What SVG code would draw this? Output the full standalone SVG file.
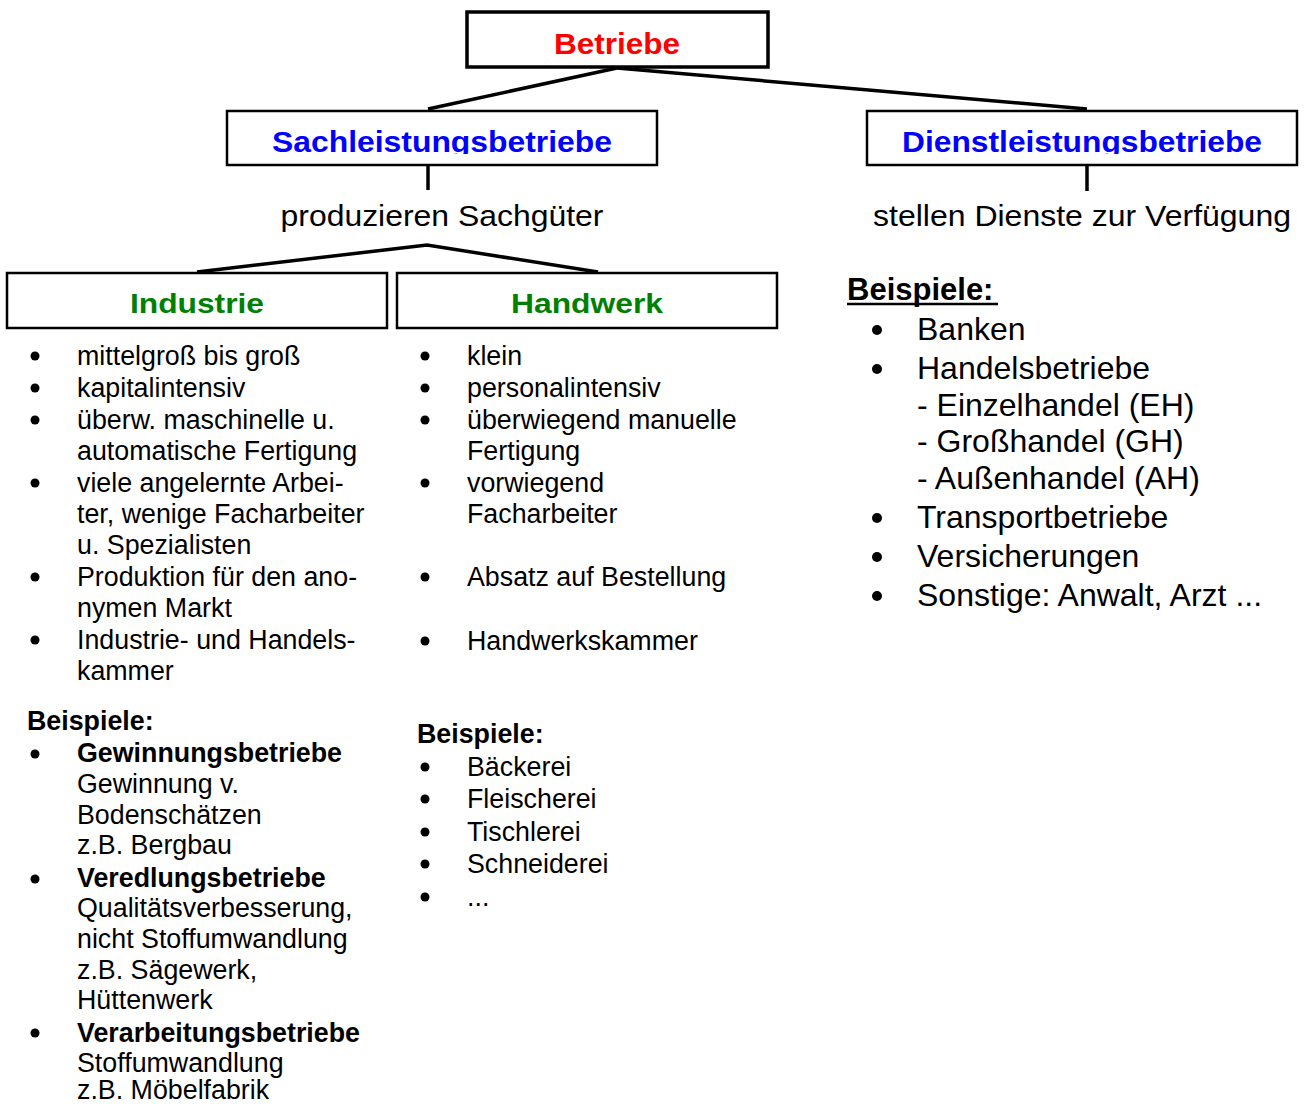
<svg xmlns="http://www.w3.org/2000/svg" width="1308" height="1104" viewBox="0 0 1308 1104">
<style>
.box{fill:#fff;stroke:#000;stroke-width:2.5}
.conn{stroke:#000;stroke-width:3.5;fill:none}
.h{font-family:"Liberation Sans",Arial,sans-serif;font-weight:bold;text-anchor:middle}
.b{font-family:"Liberation Sans",Arial,sans-serif;font-size:26.8px;fill:#000}
.bb{font-weight:bold}
.r{font-family:"Liberation Sans",Arial,sans-serif;font-size:32px;fill:#000}
.mid{font-family:"Liberation Sans",Arial,sans-serif;font-size:29px;fill:#000;text-anchor:middle}
</style>
<defs>
<clipPath id="clipS"><rect x="227" y="111" width="430" height="43"/></clipPath>
<clipPath id="clipD"><rect x="867" y="111" width="430" height="43"/></clipPath>
</defs>
<rect width="1308" height="1104" fill="#fff"/>
<g id="connectors">
<line class="conn" x1="617" y1="68" x2="428" y2="109"/>
<line class="conn" x1="617" y1="68" x2="1087" y2="109"/>
<line class="conn" x1="428" y1="166" x2="428" y2="190"/>
<line class="conn" x1="1087" y1="166" x2="1087" y2="191"/>
<polyline class="conn" points="197,272 427,245 598,272"/>
</g>
<g id="betriebe">
<rect class="box" x="467" y="12" width="301" height="55" style="stroke-width:3.5"/>
<text class="h" x="617" y="54" font-size="29" fill="#ff0000" textLength="126" lengthAdjust="spacingAndGlyphs">Betriebe</text>
</g>
<g id="sachleistung">
<rect class="box" x="227" y="111" width="430" height="54"/>
<text class="h" x="442" y="152" font-size="29" fill="#0000ff" textLength="340" lengthAdjust="spacingAndGlyphs" clip-path="url(#clipS)">Sachleistungsbetriebe</text>
</g>
<g id="dienstleistung">
<rect class="box" x="867" y="111" width="430" height="54"/>
<text class="h" x="1082" y="152" font-size="29" fill="#0000ff" textLength="360" lengthAdjust="spacingAndGlyphs" clip-path="url(#clipD)">Dienstleistungsbetriebe</text>
</g>
<g id="produzieren">
<text class="mid" x="442" y="226" textLength="323" lengthAdjust="spacingAndGlyphs">produzieren Sachgüter</text>
</g>
<g id="stellen">
<text class="mid" x="1082" y="226" textLength="418" lengthAdjust="spacingAndGlyphs">stellen Dienste zur Verfügung</text>
</g>
<g id="industrie">
<rect class="box" x="7" y="273" width="380" height="55"/>
<text class="h" x="197" y="313" font-size="28" fill="#008000" textLength="134" lengthAdjust="spacingAndGlyphs">Industrie</text>
</g>
<g id="handwerk">
<rect class="box" x="397" y="273" width="380" height="55"/>
<text class="h" x="587" y="313" font-size="28" fill="#008000" textLength="152" lengthAdjust="spacingAndGlyphs">Handwerk</text>
</g>
<g id="industrie-list">
<g fill="#000">
<circle cx="35" cy="356" r="4.5"/><circle cx="35" cy="388" r="4.5"/><circle cx="35" cy="420" r="4.5"/>
<circle cx="35" cy="483" r="4.5"/><circle cx="35" cy="577" r="4.5"/><circle cx="35" cy="640" r="4.5"/>
<circle cx="35" cy="754" r="4.5"/><circle cx="35" cy="879" r="4.5"/><circle cx="35" cy="1033" r="4.5"/>
</g>
<text class="b" x="77" y="365">mittelgroß bis groß</text>
<text class="b" x="77" y="397">kapitalintensiv</text>
<text class="b" x="77" y="429">überw. maschinelle u.</text>
<text class="b" x="77" y="460">automatische Fertigung</text>
<text class="b" x="77" y="492">viele angelernte Arbei-</text>
<text class="b" x="77" y="523">ter, wenige Facharbeiter</text>
<text class="b" x="77" y="554">u. Spezialisten</text>
<text class="b" x="77" y="586">Produktion für den ano-</text>
<text class="b" x="77" y="617">nymen Markt</text>
<text class="b" x="77" y="649">Industrie- und Handels-</text>
<text class="b" x="77" y="680">kammer</text>
<text class="b bb" x="27" y="730">Beispiele:</text>
<text class="b bb" x="77" y="762">Gewinnungsbetriebe</text>
<text class="b" x="77" y="793">Gewinnung v.</text>
<text class="b" x="77" y="824">Bodenschätzen</text>
<text class="b" x="77" y="854">z.B. Bergbau</text>
<text class="b bb" x="77" y="887">Veredlungsbetriebe</text>
<text class="b" x="77" y="917">Qualitätsverbesserung,</text>
<text class="b" x="77" y="948">nicht Stoffumwandlung</text>
<text class="b" x="77" y="979">z.B. Sägewerk,</text>
<text class="b" x="77" y="1009">Hüttenwerk</text>
<text class="b bb" x="77" y="1042">Verarbeitungsbetriebe</text>
<text class="b" x="77" y="1072">Stoffumwandlung</text>
<text class="b" x="77" y="1099">z.B. Möbelfabrik</text>
</g>
<g id="handwerk-list">
<g fill="#000">
<circle cx="425" cy="356" r="4.5"/><circle cx="425" cy="388" r="4.5"/><circle cx="425" cy="420" r="4.5"/>
<circle cx="425" cy="483" r="4.5"/><circle cx="425" cy="577" r="4.5"/><circle cx="425" cy="641" r="4.5"/>
<circle cx="425" cy="767" r="4.5"/><circle cx="425" cy="799" r="4.5"/><circle cx="425" cy="832" r="4.5"/>
<circle cx="425" cy="864" r="4.5"/><circle cx="425" cy="897" r="4.5"/>
</g>
<text class="b" x="467" y="365">klein</text>
<text class="b" x="467" y="397">personalintensiv</text>
<text class="b" x="467" y="429">überwiegend manuelle</text>
<text class="b" x="467" y="460">Fertigung</text>
<text class="b" x="467" y="492">vorwiegend</text>
<text class="b" x="467" y="523">Facharbeiter</text>
<text class="b" x="467" y="586">Absatz auf Bestellung</text>
<text class="b" x="467" y="650">Handwerkskammer</text>
<text class="b bb" x="417" y="743">Beispiele:</text>
<text class="b" x="467" y="776">Bäckerei</text>
<text class="b" x="467" y="808">Fleischerei</text>
<text class="b" x="467" y="841">Tischlerei</text>
<text class="b" x="467" y="873">Schneiderei</text>
<text class="b" x="467" y="906">...</text>
</g>
<g id="dienst-list">
<text class="r bb" x="847" y="300" style="font-size:31px">Beispiele:</text>
<line x1="847" y1="304" x2="998" y2="304" stroke="#000" stroke-width="2.5"/>
<g fill="#000">
<circle cx="877" cy="330" r="5"/><circle cx="877" cy="369" r="5"/>
<circle cx="877" cy="518" r="5"/><circle cx="877" cy="557" r="5"/><circle cx="877" cy="596" r="5"/>
</g>
<text class="r" x="917" y="340">Banken</text>
<text class="r" x="917" y="379">Handelsbetriebe</text>
<text class="r" x="917" y="416">- Einzelhandel (EH)</text>
<text class="r" x="917" y="452">- Großhandel (GH)</text>
<text class="r" x="917" y="489">- Außenhandel (AH)</text>
<text class="r" x="917" y="528">Transportbetriebe</text>
<text class="r" x="917" y="567">Versicherungen</text>
<text class="r" x="917" y="606">Sonstige: Anwalt, Arzt ...</text>
</g>
</svg>
